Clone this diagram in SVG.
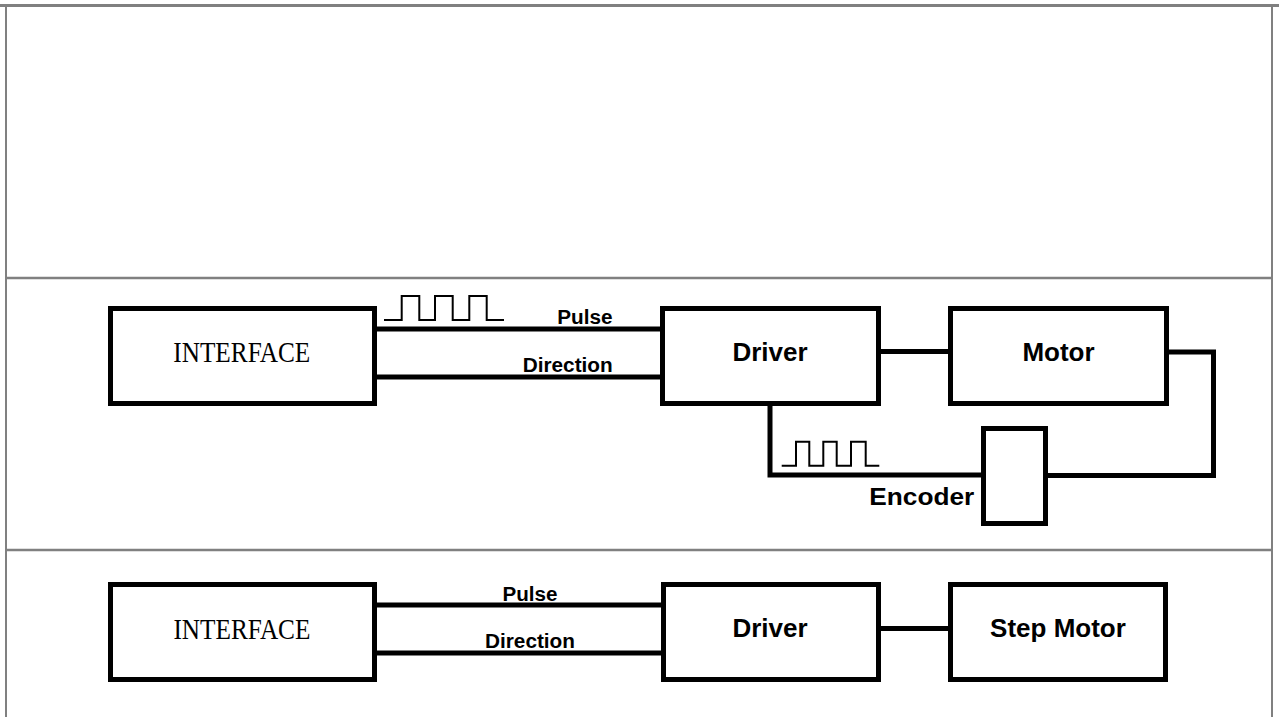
<svg xmlns="http://www.w3.org/2000/svg" width="1279" height="717" viewBox="0 0 1279 717">
<style>
.frame{stroke:#808080;fill:none}
.box{fill:#fff;stroke:#000;stroke-width:5}
.wire{fill:none;stroke:#000;stroke-width:5;stroke-linejoin:miter;stroke-linecap:butt}
.wave{fill:none;stroke:#000;stroke-width:2}
.lbl{font-family:"Liberation Sans",Arial,sans-serif;font-weight:bold;fill:#000}
.big{font-size:26px}
.small{font-size:20px}
.serif{font-family:"Liberation Serif","Times New Roman",serif;font-size:30px;fill:#000}
</style>
<rect width="1279" height="717" fill="#fff"/>
<g id="frame">
<line class="frame" x1="0" y1="5.5" x2="1279" y2="5.5" stroke-width="3"/>
<line class="frame" x1="6" y1="7" x2="6" y2="717" stroke-width="2"/>
<line class="frame" x1="1272" y1="7" x2="1272" y2="717" stroke-width="2"/>
<line class="frame" x1="6" y1="278" x2="1272" y2="278" stroke-width="2.5"/>
<line class="frame" x1="6" y1="550" x2="1272" y2="550" stroke-width="2.5"/>
</g>
<g id="connectors">
<line class="wire" x1="376" y1="329" x2="661" y2="329"/>
<line class="wire" x1="376" y1="377" x2="661" y2="377"/>
<line class="wire" x1="880" y1="351.5" x2="949" y2="351.5"/>
<path class="wire" d="M1168,352 H1213.5 V475.5 H1047"/>
<path class="wire" d="M770,405 V475 H982"/>
<path class="wave" d="M384,320 H401.7 V296 H419.3 V320 H435 V296 H452.7 V320 H469.3 V296 H486.7 V320 H504"/>
<path class="wave" d="M781.7,465.7 H796 V441.7 H809.3 V465.7 H823.3 V441.7 H836.7 V465.7 H851 V441.7 H865.7 V465.7 H879.3"/>
<line class="wire" x1="376" y1="605" x2="662" y2="605"/>
<line class="wire" x1="376" y1="653" x2="662" y2="653"/>
<line class="wire" x1="880" y1="628.5" x2="949" y2="628.5"/>
<text class="lbl small" x="557.3" y="324" textLength="55.3" lengthAdjust="spacingAndGlyphs">Pulse</text>
<text class="lbl small" x="522.7" y="371.7" textLength="90" lengthAdjust="spacingAndGlyphs">Direction</text>
<text class="lbl" x="869.3" y="505" textLength="105" lengthAdjust="spacingAndGlyphs" font-size="23">Encoder</text>
<text class="lbl small" x="502.5" y="600.7" textLength="55" lengthAdjust="spacingAndGlyphs">Pulse</text>
<text class="lbl small" x="485" y="648" textLength="90" lengthAdjust="spacingAndGlyphs">Direction</text>
</g>
<g id="interface1">
<rect class="box" x="110.5" y="308.5" width="264" height="95"/>
<text class="serif" x="173.3" y="361.7" textLength="137" lengthAdjust="spacingAndGlyphs">INTERFACE</text>
</g>
<g id="driver1">
<rect class="box" x="662.5" y="308.5" width="216" height="95"/>
<text class="lbl big" x="770" y="361" text-anchor="middle">Driver</text>
</g>
<g id="motor1">
<rect class="box" x="950.5" y="308.5" width="216" height="95"/>
<text class="lbl big" x="1058.5" y="361" text-anchor="middle">Motor</text>
</g>
<g id="encoder1">
<rect class="box" x="983.5" y="428.5" width="62" height="95"/>
</g>
<g id="interface2">
<rect class="box" x="110.5" y="584.5" width="264" height="95"/>
<text class="serif" x="173.4" y="639" textLength="137" lengthAdjust="spacingAndGlyphs">INTERFACE</text>
</g>
<g id="driver2">
<rect class="box" x="663.5" y="584.5" width="215" height="95"/>
<text class="lbl big" x="770" y="637.3" text-anchor="middle">Driver</text>
</g>
<g id="stepmotor2">
<rect class="box" x="950.5" y="584.5" width="215" height="95"/>
<text class="lbl big" x="1058" y="637.3" text-anchor="middle">Step Motor</text>
</g>
</svg>
